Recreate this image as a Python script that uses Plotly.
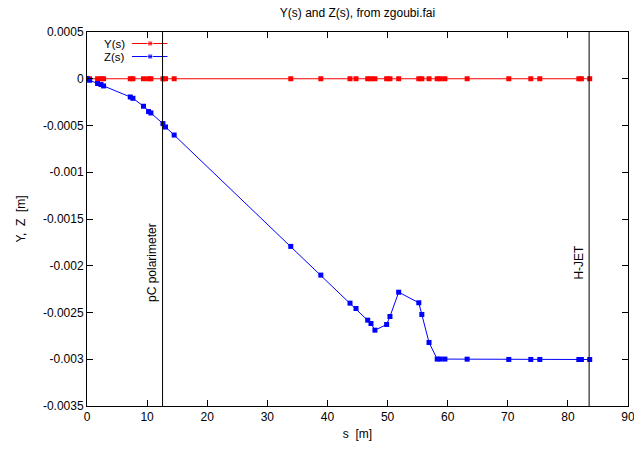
import plotly.graph_objects as go

# ---- data ----
s_vals = [0.0, 0.43, 1.76, 2.33, 2.76, 7.2, 7.64, 9.4, 10.24, 10.63, 12.63, 13.06, 14.5,
          33.9, 38.9, 43.75, 44.75, 46.7, 47.24, 47.9, 49.85, 50.4, 51.85, 55.2, 55.7,
          56.9, 58.26, 58.76, 59.54, 63.24, 70.17, 73.83, 75.33, 81.82, 82.25, 83.63]
y_vals = [0.0] * len(s_vals)
z_vals = [0.0, -0.000016, -0.000051, -0.000062, -0.000077, -0.000195, -0.000209,
          -0.000294, -0.000351, -0.000366, -0.00048, -0.000516, -0.000602,
          -0.001793, -0.0021, -0.0024, -0.002457, -0.002582, -0.002618, -0.002689,
          -0.002628, -0.002543, -0.002283, -0.002396, -0.002521, -0.002821,
          -0.002998, -0.002998, -0.002998, -0.002999, -0.003002, -0.003002,
          -0.003002, -0.003003, -0.003003, -0.003003]

marker_names = ["pC polarimeter", "H-JET"]
marker_s = [12.57, 83.53]

x_ticks = [0, 10, 20, 30, 40, 50, 60, 70, 80, 90]
y_ticks = [0.0005, 0, -0.0005, -0.001, -0.0015, -0.002, -0.0025, -0.003, -0.0035]
y_ticktext = ["0.0005", "0", "-0.0005", "-0.001", "-0.0015", "-0.002", "-0.0025", "-0.003", "-0.0035"]

series_names = ["Y(s)", "Z(s)"]
series_colors = ["#ff0000", "#0000ff"]

FONT = "Liberation Sans, Arial, Helvetica, sans-serif"

fig = go.Figure()
for name, vals, col in zip(series_names, [y_vals, z_vals], series_colors):
    fig.add_trace(go.Scatter(x=s_vals, y=vals, mode="lines+markers", name=name,
                             line=dict(color=col, width=1),
                             marker=dict(symbol="square", size=5, color=col),
                             showlegend=False))

# manual gnuplot-style legend (text then sample), on an overlay axis in pixel units
L, R, T, B = 86.7, 628.3, 32.0, 405.7
leg_rows = [43.5, 56.5]
for name, col, yy in zip(series_names, series_colors, leg_rows):
    fig.add_trace(go.Scatter(x=[131.7, 150, 167.3], y=[yy, yy, yy], mode="lines+markers",
                             xaxis="x2", yaxis="y2", showlegend=False, hoverinfo="skip",
                             line=dict(color=col, width=1),
                             marker=dict(symbol="square", size=[0, 5, 0], color=col)))
    fig.add_annotation(x=127, y=yy, xref="x2", yref="y2", text=name, showarrow=False,
                       xanchor="right", yanchor="middle",
                       font=dict(family=FONT, size=11.5, color="#000"))

for nm, sv in zip(marker_names, marker_s):
    fig.add_shape(type="line", x0=sv, x1=sv, y0=0, y1=1, xref="x", yref="paper",
                  line=dict(color="black", width=1))
    fig.add_annotation(x=sv, y=-0.001965, xref="x", yref="y", text=nm, showarrow=False,
                       textangle=-90, xanchor="right", yanchor="middle", xshift=-1,
                       font=dict(family=FONT, size=12, color="#000"))

W, H = 634, 449
fig.update_layout(
    width=W, height=H,
    margin=dict(l=L, r=W - R, t=T, b=H - B, autoexpand=False),
    paper_bgcolor="white", plot_bgcolor="white",
    font=dict(family=FONT, size=12, color="#000"),
    title=dict(text="Y(s) and Z(s), from zgoubi.fai", x=0.5, xref="paper",
               y=1 - 13 / H, yref="container", yanchor="middle", xanchor="center",
               font=dict(family=FONT, size=12, color="#000")),
    xaxis=dict(range=[0, 90], tickvals=x_ticks, ticks="inside", ticklen=6,
               showline=True, linecolor="black", linewidth=1, mirror="ticks",
               showgrid=False, zeroline=False, tickcolor="black",
               ticklabeloverflow="allow", automargin=False,
               title=dict(text="s  [m]", standoff=6, font=dict(size=12))),
    yaxis=dict(range=[-0.0035, 0.0005], tickvals=y_ticks, ticktext=y_ticktext,
               ticks="inside", ticklen=6, showline=True, linecolor="black", linewidth=1,
               mirror="ticks", showgrid=False, zeroline=False, tickcolor="black",
               automargin=False,
               title=dict(text="Y,  Z  [m]", standoff=14, font=dict(size=12))),
    xaxis2=dict(overlaying="x", range=[L, R], visible=False, fixedrange=True),
    yaxis2=dict(overlaying="y", range=[B, T], visible=False, fixedrange=True),
)

fig.write_html("out.html")
